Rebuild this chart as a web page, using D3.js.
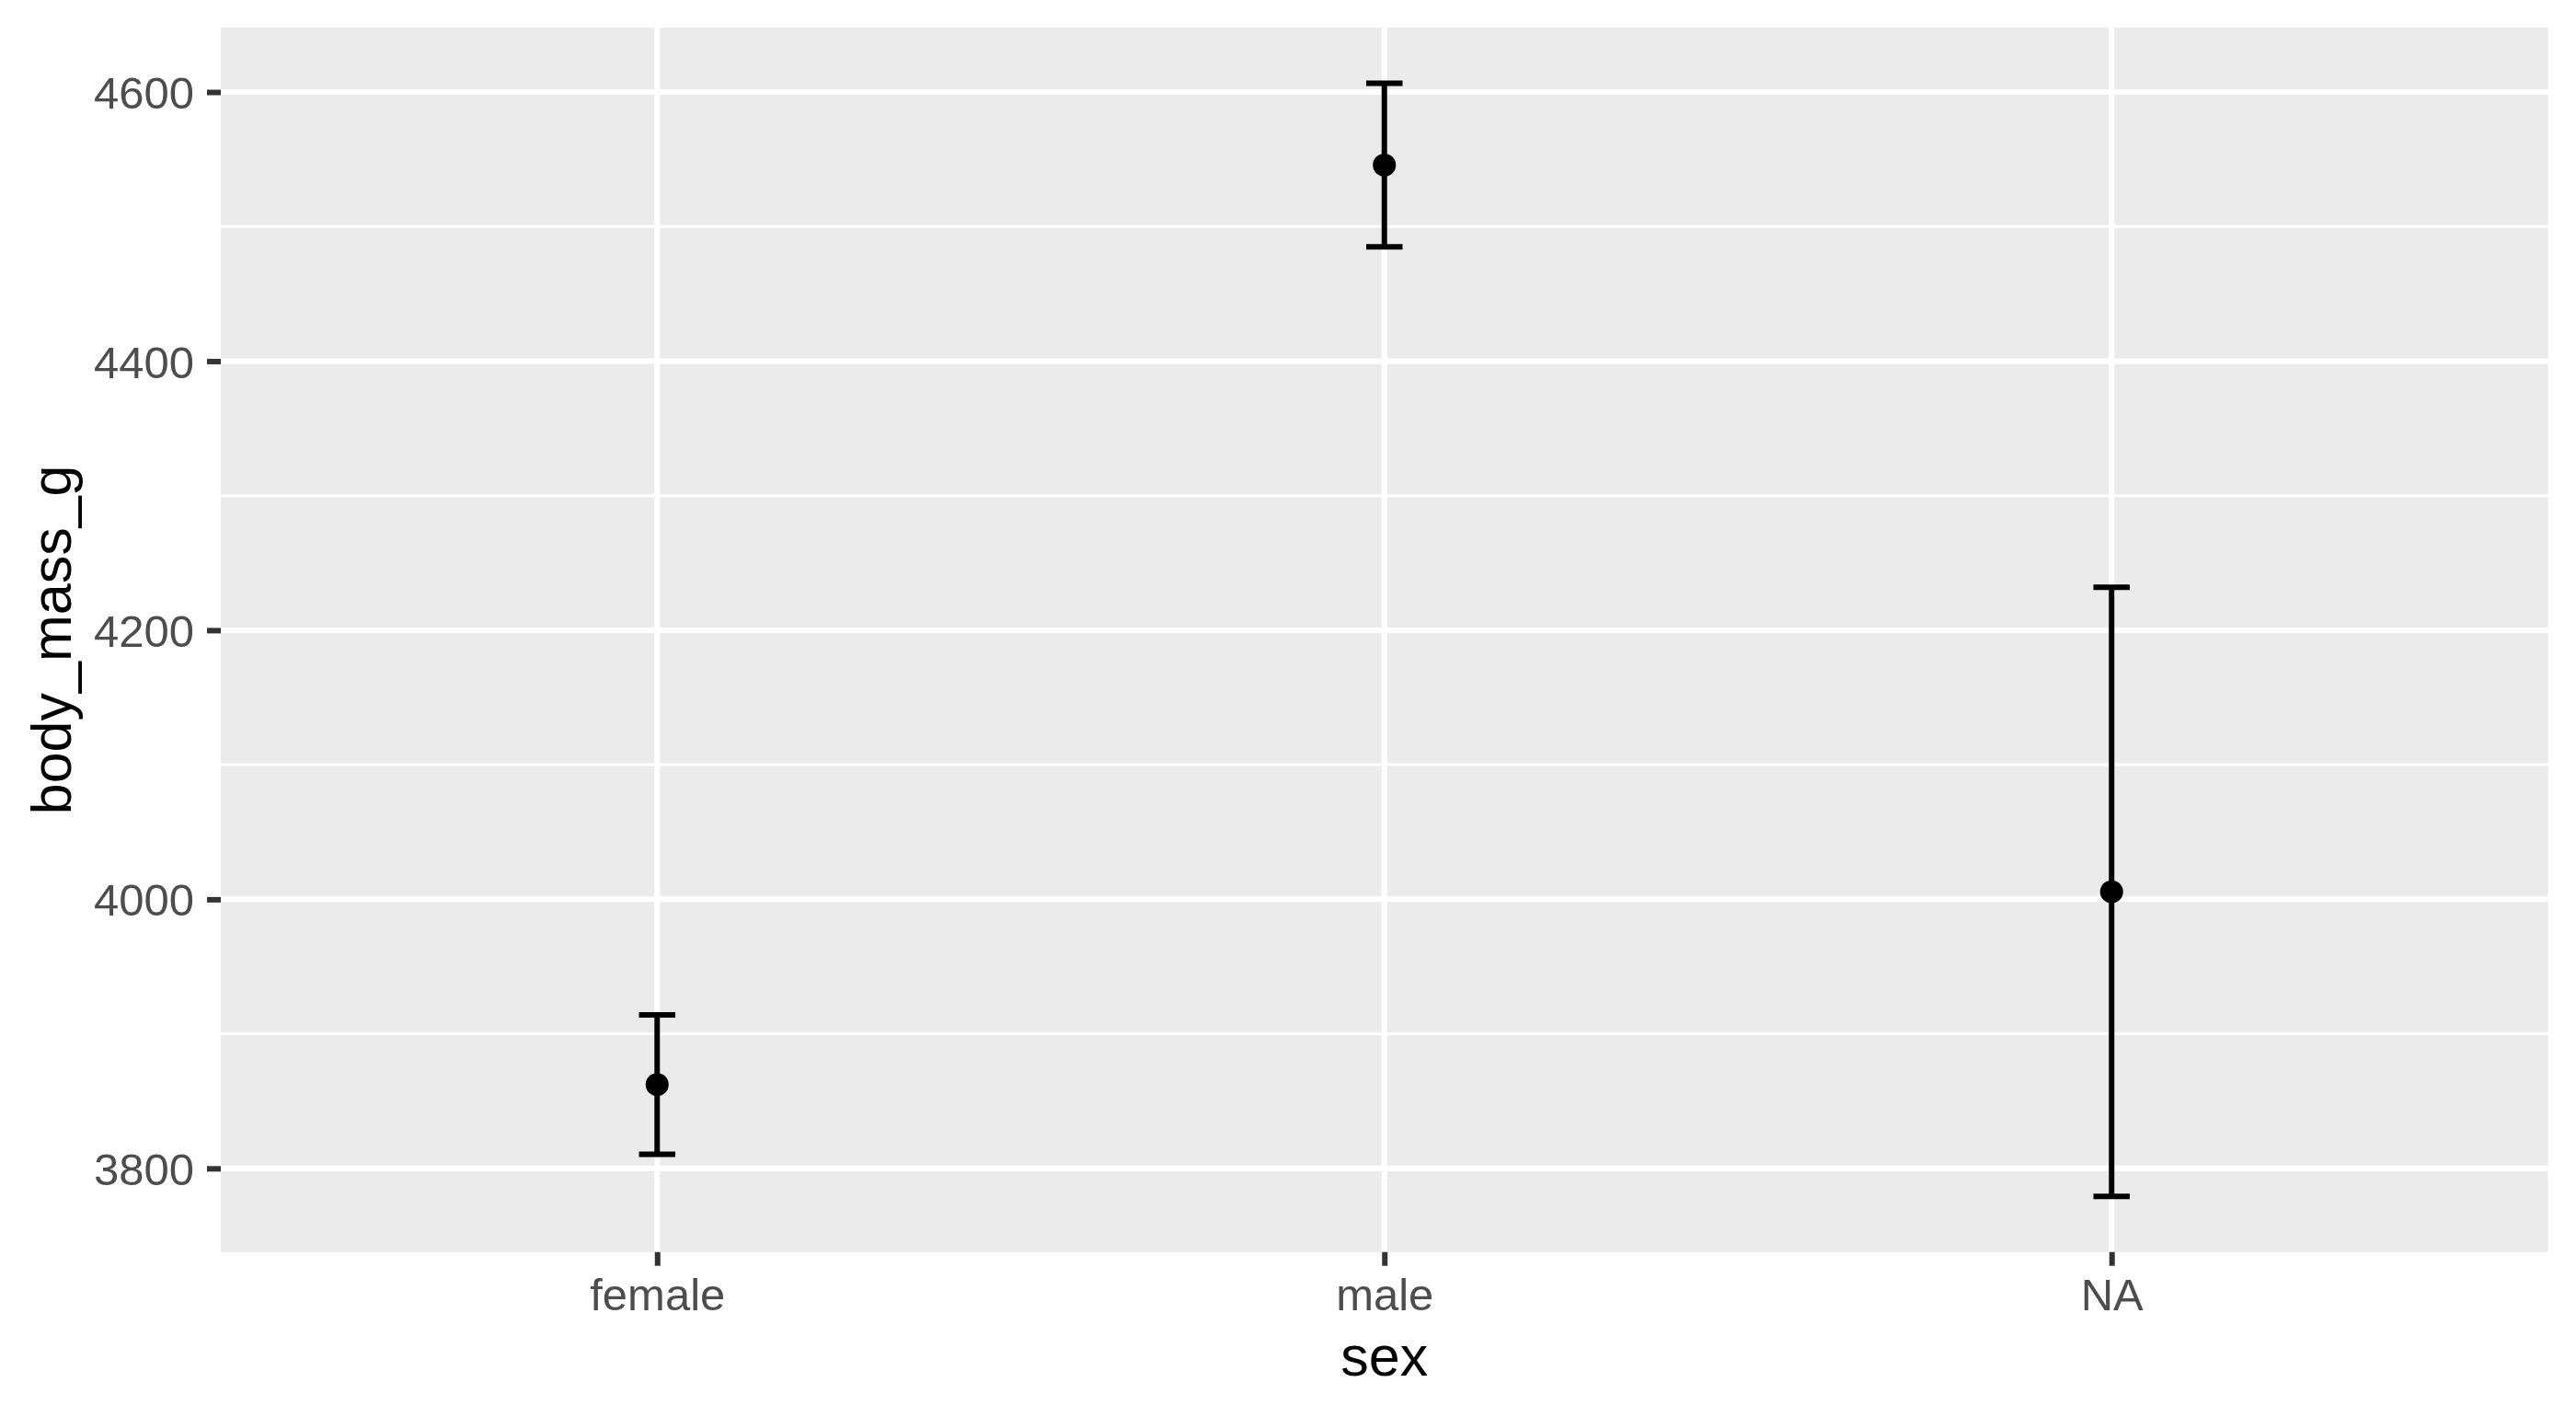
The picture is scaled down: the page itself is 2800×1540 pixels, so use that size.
<!DOCTYPE html>
<html lang="en">
<head>
<meta charset="utf-8">
<title>body_mass_g by sex</title>
<script src="https://cdn.jsdelivr.net/npm/d3@7/dist/d3.min.js"></script>
<style>
  body { margin: 0; background: #ffffff; }
  text { font-family: "Liberation Sans", Arial, Helvetica, sans-serif; }
</style>
</head>
<body>
<svg id="chart"></svg>
<script>
// data: mean +/- standard error of body mass per sex
const sexes = ["female", "male", "NA"];
const means = [3862.3, 4545.7, 4005.6];
const lower = [3810.4, 4484.9, 3779.2];
const upper = [3914.1, 4606.5, 4231.9];
const yTicks = [3800, 4000, 4200, 4400, 4600];
const yMinor = [3900, 4100, 4300, 4500];

const width = 2800;
const height = 1540;
const panel = { left: 240, right: 2769.5, top: 30, bottom: 1360.7 };

const svg = d3.select("#chart")
    .attr("width", width)
    .attr("height", height);

const rows = sexes.map((s, i) => ({ sex: s, mean: means[i], lo: lower[i], hi: upper[i] }));

// ggplot style 5% expansion of the continuous axis
const lo = d3.min(lower), hi = d3.max(upper);
const pad = (hi - lo) * 0.05;

const x = d3.scalePoint()
    .domain(sexes)
    .range([panel.left, panel.right])
    .padding(0.6);

const y = d3.scaleLinear()
    .domain([lo - pad, hi + pad])
    .range([panel.bottom, panel.top]);

// panel background
svg.append("rect")
    .attr("x", panel.left)
    .attr("y", panel.top)
    .attr("width", panel.right - panel.left)
    .attr("height", panel.bottom - panel.top)
    .attr("fill", "#ebebeb");

// grid lines
svg.append("g").selectAll("line")
    .data(yMinor)
    .enter().append("line")
    .attr("x1", panel.left).attr("x2", panel.right)
    .attr("y1", d => y(d)).attr("y2", d => y(d))
    .attr("stroke", "#ffffff")
    .attr("stroke-width", 3);

svg.append("g").selectAll("line")
    .data(yTicks)
    .enter().append("line")
    .attr("x1", panel.left).attr("x2", panel.right)
    .attr("y1", d => y(d)).attr("y2", d => y(d))
    .attr("stroke", "#ffffff")
    .attr("stroke-width", 6);

svg.append("g").selectAll("line")
    .data(sexes)
    .enter().append("line")
    .attr("x1", d => x(d)).attr("x2", d => x(d))
    .attr("y1", panel.top).attr("y2", panel.bottom)
    .attr("stroke", "#ffffff")
    .attr("stroke-width", 6);

// axes
const yAxis = d3.axisLeft(y)
    .tickValues(yTicks)
    .tickSize(15)
    .tickPadding(14)
    .tickFormat(d3.format("d"));

svg.append("g")
    .attr("transform", `translate(${panel.left},0)`)
    .call(yAxis)
    .call(g => g.select(".domain").remove())
    .call(g => g.selectAll(".tick line").attr("stroke", "#333333").attr("stroke-width", 6))
    .call(g => g.selectAll(".tick text")
        .attr("fill", "#4d4d4d")
        .style("font-size", "49px")
        .attr("dy", "0.36em"));

const xAxis = d3.axisBottom(x)
    .tickSize(15)
    .tickPadding(14);

svg.append("g")
    .attr("transform", `translate(0,${panel.bottom})`)
    .call(xAxis)
    .call(g => g.select(".domain").remove())
    .call(g => g.selectAll(".tick line").attr("stroke", "#333333").attr("stroke-width", 6))
    .call(g => g.selectAll(".tick text")
        .attr("fill", "#4d4d4d")
        .style("font-size", "49px")
        .attr("dy", "0.71em"));

// error bars
const capHalf = x.step() * 0.025;
const bars = svg.append("g").selectAll("g")
    .data(rows)
    .enter().append("g");

bars.append("line")
    .attr("x1", d => x(d.sex)).attr("x2", d => x(d.sex))
    .attr("y1", d => y(d.lo)).attr("y2", d => y(d.hi))
    .attr("stroke", "#000000")
    .attr("stroke-width", 6);

bars.append("line")
    .attr("x1", d => x(d.sex) - capHalf).attr("x2", d => x(d.sex) + capHalf)
    .attr("y1", d => y(d.hi)).attr("y2", d => y(d.hi))
    .attr("stroke", "#000000")
    .attr("stroke-width", 6);

bars.append("line")
    .attr("x1", d => x(d.sex) - capHalf).attr("x2", d => x(d.sex) + capHalf)
    .attr("y1", d => y(d.lo)).attr("y2", d => y(d.lo))
    .attr("stroke", "#000000")
    .attr("stroke-width", 6);

// mean points
svg.append("g").selectAll("circle")
    .data(rows)
    .enter().append("circle")
    .attr("cx", d => x(d.sex))
    .attr("cy", d => y(d.mean))
    .attr("r", 12.5)
    .attr("fill", "#000000");

// axis titles
svg.append("text")
    .attr("x", (panel.left + panel.right) / 2)
    .attr("y", 1495)
    .attr("text-anchor", "middle")
    .style("font-size", "61px")
    .attr("fill", "#000000")
    .text("sex");

svg.append("text")
    .attr("transform", `translate(77,${(panel.top + panel.bottom) / 2}) rotate(-90)`)
    .attr("text-anchor", "middle")
    .style("font-size", "61px")
    .attr("fill", "#000000")
    .text("body_mass_g");
</script>
</body>
</html>
